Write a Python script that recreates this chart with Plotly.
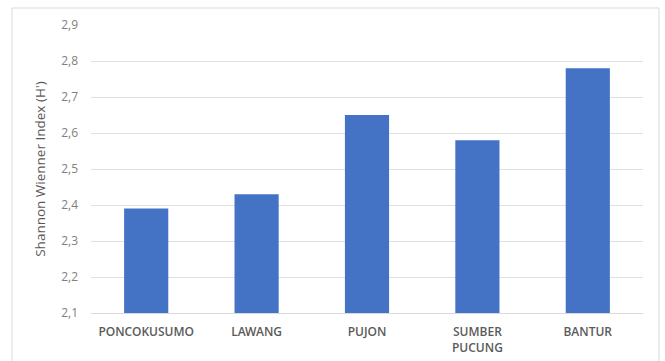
import plotly.graph_objects as go

# Shannon-Wiener diversity index per location
locations = ["PONCOKUSUMO", "LAWANG", "PUJON", "SUMBER<br>PUCUNG", "BANTUR"]
h_index = [2.39, 2.43, 2.65, 2.58, 2.78]

W, H = 665, 361
left, right, top, bottom = 91, 22, 25, 48
pw, ph = W - left - right, H - top - bottom

fig = go.Figure(
    go.Bar(
        x=locations,
        y=h_index,
        marker=dict(color="#4472C4", line=dict(width=0)),
        width=0.4,
    )
)

# outer chart border in paper coordinates
bx0, bx1 = (12 - left) / pw, (659 - left) / pw
by1 = 1 + (top - 8) / ph
by0 = -(H + 5 - top - ph) / ph

fig.update_layout(
    width=W,
    height=H,
    margin=dict(l=left, r=right, t=top, b=bottom),
    paper_bgcolor="white",
    plot_bgcolor="white",
    separators=",.",
    showlegend=False,
    font=dict(family="Open Sans, sans-serif", color="#595959"),
    xaxis=dict(
        showgrid=False,
        showline=True,
        linecolor="#d9d9d9",
        linewidth=1,
        ticks="",
        ticklabelstandoff=8,
        automargin=False,
        tickfont=dict(size=12, color="#5a5a5a", family="Open Sans Semibold, Open Sans, sans-serif"),
        fixedrange=True,
    ),
    yaxis=dict(
        range=[2.1, 2.9],
        dtick=0.1,
        tick0=2.1,
        tickformat=".1f",
        showgrid=True,
        gridcolor="#e0e0e0",
        gridwidth=1,
        zeroline=False,
        showline=False,
        ticks="",
        ticklabelstandoff=12,
        automargin=False,
        tickfont=dict(size=12, color="#808080"),
        title=dict(
            text="Shannon Wienner Index (H')",
            font=dict(size=13.5, color="#595959"),
            standoff=12,
        ),
        fixedrange=True,
    ),
    shapes=[
        dict(
            type="rect",
            xref="paper",
            yref="paper",
            x0=bx0,
            x1=bx1,
            y0=by0,
            y1=by1,
            line=dict(color="#d9d9d9", width=1),
            layer="below",
        )
    ],
)

fig.write_html("out.html")
